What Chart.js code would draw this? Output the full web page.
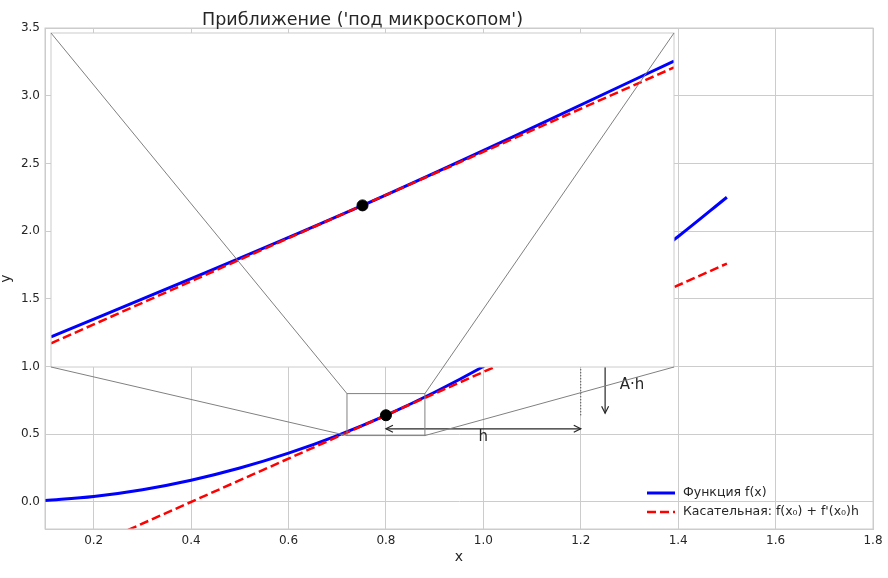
<!DOCTYPE html>
<html>
<head>
<meta charset="utf-8">
<script src="https://cdn.jsdelivr.net/npm/chart.js@4.4.0/dist/chart.umd.min.js"></script>
<style>
  html, body { margin: 0; padding: 0; background: #fff; }
  #wrap { position: relative; width: 888px; height: 578px; }
  #wrap canvas { position: absolute; left: 0; top: 0; }
  #zoomChart { pointer-events: none; }
</style>
</head>
<body>
<div id="wrap">
  <canvas id="mainChart" width="888" height="578"></canvas>
  <canvas id="zoomChart" width="888" height="578"></canvas>
</div>
<script>
// values
const curveX = [0.1, 0.2, 0.3, 0.4, 0.5, 0.6, 0.7, 0.8, 0.9, 1.0, 1.1, 1.2, 1.3, 1.4, 1.5];
const curveY = [0.01, 0.04, 0.09, 0.16, 0.25, 0.36, 0.49, 0.64, 0.81, 1.0, 1.21, 1.44, 1.69, 1.96, 2.25];
const tangentX = [0.1, 1.5];
const tangentY = [-0.48, 1.76];
const pointX = [0.8];
const pointY = [0.64];

// zoomed part
const zoomX = [0.72, 0.76, 0.8, 0.84, 0.88];
const zoomCurveY = [0.518, 0.578, 0.64, 0.706, 0.774];
const zoomTangentX = [0.72, 0.88];
const zoomTangentY = [0.512, 0.768];
const zoomBoxX = [0.72, 0.88];
const zoomBoxY = [0.49, 0.8];

const xTicks = [0.2, 0.4, 0.6, 0.8, 1.0, 1.2, 1.4, 1.6, 1.8];
const yTicks = [0.0, 0.5, 1.0, 1.5, 2.0, 2.5, 3.0, 3.5];

const labels = ['Функция f(x)', "Касательная: f(x₀) + f'(x₀)h"];
const titleText = "Приближение ('под микроскопом')";

Chart.defaults.font.family = 'DejaVu Sans';
Chart.defaults.color = '#262626';

let pts = function(xs, ys) { return xs.map((x, i) => ({x: x, y: ys[i]})); };

let arrowHead = function(ctx, fx, fy, tx, ty) {
  const a = Math.atan2(ty - fy, tx - fx);
  const len = 7, w = 3.5;
  ctx.beginPath();
  ctx.moveTo(tx - len * Math.cos(a) + w * Math.sin(a), ty - len * Math.sin(a) - w * Math.cos(a));
  ctx.lineTo(tx, ty);
  ctx.lineTo(tx - len * Math.cos(a) - w * Math.sin(a), ty - len * Math.sin(a) + w * Math.cos(a));
  ctx.stroke();
};

const annotate = {
  id: 'annotate',
  afterDatasetsDraw(chart) {
    const {ctx, scales: {x, y}} = chart;
    ctx.save();
    ctx.strokeStyle = '#262626';
    ctx.lineWidth = 1;

    // dotted line at x0 + h
    ctx.setLineDash([1, 2]);
    ctx.beginPath();
    ctx.moveTo(x.getPixelForValue(1.2), y.getPixelForValue(0.64));
    ctx.lineTo(x.getPixelForValue(1.2), y.getPixelForValue(1.44));
    ctx.stroke();
    ctx.setLineDash([]);

    // A*h arrow
    let ax = x.getPixelForValue(1.25);
    let ay1 = y.getPixelForValue(1.28), ay2 = y.getPixelForValue(0.655);
    ctx.lineWidth = 1.2;
    ctx.beginPath();
    ctx.moveTo(ax, ay1);
    ctx.lineTo(ax, ay2);
    ctx.stroke();
    arrowHead(ctx, ax, ay1, ax, ay2);

    // h arrow
    let hy = y.getPixelForValue(0.54);
    let hx1 = x.getPixelForValue(0.8), hx2 = x.getPixelForValue(1.2);
    ctx.beginPath();
    ctx.moveTo(hx1, hy);
    ctx.lineTo(hx2, hy);
    ctx.stroke();
    arrowHead(ctx, hx2, hy, hx1, hy);
    arrowHead(ctx, hx1, hy, hx2, hy);

    ctx.fillStyle = '#262626';
    ctx.font = '15px DejaVu Sans';
    ctx.textBaseline = 'middle';
    ctx.textAlign = 'center';
    ctx.fillText('h', x.getPixelForValue(1.0), y.getPixelForValue(0.48));
    ctx.textAlign = 'left';
    ctx.fillText('A·h', x.getPixelForValue(1.28), y.getPixelForValue(0.86));

    // zoom box
    ctx.strokeStyle = '#808080';
    ctx.lineWidth = 1;
    let bx1 = x.getPixelForValue(zoomBoxX[0]), bx2 = x.getPixelForValue(zoomBoxX[1]);
    let by1 = y.getPixelForValue(zoomBoxY[1]), by2 = y.getPixelForValue(zoomBoxY[0]);
    ctx.strokeRect(bx1, by1, bx2 - bx1, by2 - by1);
    ctx.restore();
  },
  afterDraw(chart) {
    const {ctx, chartArea: a} = chart;
    ctx.save();
    ctx.strokeStyle = '#cccccc';
    ctx.lineWidth = 1;
    ctx.strokeRect(a.left, a.top, a.width, a.height);

    // legend
    ctx.font = '12.5px DejaVu Sans';
    ctx.textBaseline = 'middle';
    ctx.textAlign = 'left';
    chart.data.datasets.slice(0, 2).forEach((ds, i) => {
      let ly = a.bottom - 36 + i * 19;
      let lx = a.right - 226;
      ctx.strokeStyle = ds.borderColor;
      ctx.lineWidth = ds.borderWidth;
      ctx.setLineDash(ds.borderDash || []);
      ctx.beginPath();
      ctx.moveTo(lx, ly);
      ctx.lineTo(lx + 28, ly);
      ctx.stroke();
      ctx.setLineDash([]);
      ctx.fillStyle = '#262626';
      ctx.fillText(ds.label, lx + 36, ly);
    });
    ctx.restore();
  }
};

let main = new Chart(document.getElementById('mainChart'), {
  type: 'scatter',
  data: {
    datasets: [
      {
        label: labels[0],
        data: pts(curveX, curveY),
        showLine: true,
        borderColor: '#0000ff',
        borderWidth: 3,
        pointRadius: 0,
        cubicInterpolationMode: 'monotone',
        order: 2
      },
      {
        label: labels[1],
        data: pts(tangentX, tangentY),
        showLine: true,
        borderColor: '#ff0000',
        borderWidth: 2.5,
        borderDash: [9, 4],
        pointRadius: 0,
        order: 1
      },
      {
        label: 'x0',
        data: pts(pointX, pointY),
        backgroundColor: '#000000',
        borderColor: '#000000',
        pointRadius: 5.5,
        order: 0
      }
    ]
  },
  options: {
    responsive: false,
    animation: false,
    devicePixelRatio: 1,
    layout: { padding: { top: 28, right: 15, left: 0, bottom: 0 } },
    plugins: { legend: { display: false }, tooltip: { enabled: false } },
    scales: {
      x: {
        type: 'linear', min: 0.1, max: 1.8,
        afterBuildTicks: s => { s.ticks = xTicks.map(v => ({value: v})); },
        afterFit: s => { s.height = 49; },
        ticks: { font: { size: 12 }, padding: 5, callback: v => v.toFixed(1) },
        grid: { color: '#cccccc', drawTicks: false },
        border: { color: '#cccccc' },
        title: { display: true, text: 'x', font: { size: 14 }, padding: { top: 0, bottom: 12 } }
      },
      y: {
        type: 'linear', min: -0.2, max: 3.5,
        afterBuildTicks: s => { s.ticks = yTicks.map(v => ({value: v})); },
        afterFit: s => { s.width = 45; },
        ticks: { font: { size: 12 }, padding: 5, callback: v => v.toFixed(1) },
        grid: { color: '#cccccc', drawTicks: false },
        border: { color: '#cccccc' },
        title: { display: true, text: 'y', font: { size: 14, lineHeight: 0.9 }, padding: { top: 0, bottom: 0 } }
      }
    }
  },
  plugins: [annotate]
});

const zoomFrame = {
  id: 'zoomFrame',
  beforeDraw(chart) {
    const {ctx, chartArea: a} = chart;
    ctx.save();
    ctx.fillStyle = '#ffffff';
    ctx.fillRect(a.left, a.top, a.width, a.height);
    ctx.restore();
  },
  afterDraw(chart) {
    const {ctx, chartArea: a} = chart;
    const mx = main.scales.x, my = main.scales.y;
    ctx.save();
    ctx.strokeStyle = '#cccccc';
    ctx.lineWidth = 1;
    ctx.strokeRect(a.left, a.top, a.width, a.height);

    // connectors between corners
    let bl = mx.getPixelForValue(zoomBoxX[0]), br = mx.getPixelForValue(zoomBoxX[1]);
    let bt = my.getPixelForValue(zoomBoxY[1]), bb = my.getPixelForValue(zoomBoxY[0]);
    ctx.strokeStyle = '#808080';
    ctx.beginPath();
    ctx.moveTo(a.left, a.top); ctx.lineTo(bl, bt);
    ctx.moveTo(a.right, a.top); ctx.lineTo(br, bt);
    ctx.moveTo(a.left, a.bottom); ctx.lineTo(bl, bb);
    ctx.moveTo(a.right, a.bottom); ctx.lineTo(br, bb);
    ctx.stroke();
    ctx.restore();
  }
};

let zoom = new Chart(document.getElementById('zoomChart'), {
  type: 'scatter',
  data: {
    datasets: [
      {
        data: pts(zoomX, zoomCurveY),
        showLine: true,
        borderColor: '#0000ff',
        borderWidth: 3,
        pointRadius: 0,
        cubicInterpolationMode: 'monotone',
        order: 2
      },
      {
        data: pts(zoomTangentX, zoomTangentY),
        showLine: true,
        borderColor: '#ff0000',
        borderWidth: 2.5,
        borderDash: [9, 4],
        pointRadius: 0,
        order: 1
      },
      {
        data: pts(pointX, pointY),
        backgroundColor: '#000000',
        borderColor: '#000000',
        pointRadius: 5.5,
        order: 0
      }
    ]
  },
  options: {
    responsive: false,
    animation: false,
    devicePixelRatio: 1,
    events: [],
    layout: { padding: { top: 0, left: 51, right: 214, bottom: 211 } },
    plugins: {
      legend: { display: false },
      tooltip: { enabled: false },
      title: {
        display: true,
        text: titleText,
        font: { size: 17.5, weight: 'normal', lineHeight: 1.2 },
        color: '#262626',
        padding: { top: 10, bottom: 2 }
      }
    },
    scales: {
      x: { type: 'linear', min: zoomBoxX[0], max: zoomBoxX[1], display: false },
      y: { type: 'linear', min: zoomBoxY[0], max: zoomBoxY[1], display: false }
    }
  },
  plugins: [zoomFrame]
});
</script>
</body>
</html>
